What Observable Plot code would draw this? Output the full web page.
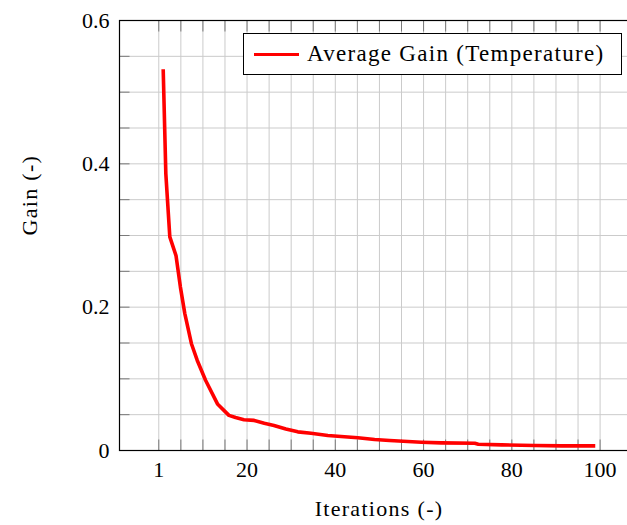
<!DOCTYPE html>
<html>
<head>
<meta charset="utf-8">
<script src="https://cdn.jsdelivr.net/npm/d3@7"></script>
<script src="https://cdn.jsdelivr.net/npm/@observablehq/plot@0.6"></script>
<style>
  html, body { margin: 0; padding: 0; background: #fff; overflow: hidden; }
  #chart { position: relative; width: 627px; height: 525px; overflow: hidden; }
  #chart svg { display: block; max-width: none !important; width: 640px; height: 525px; }
  .legend {
    position: absolute; left: 243px; top: 33px; width: 377px; height: 40px;
    border: 1px solid #000; background: #fff;
    font-family: "Liberation Serif", serif; font-size: 23px; color: #000;
  }
  .legend .swatch { position: absolute; left: 10px; top: 18.5px; width: 45px; height: 3.6px; background: #ff0000; }
  .legend .name { position: absolute; left: 63px; top: 6.5px; line-height: 26px; white-space: nowrap; letter-spacing: 1.3px; }
</style>
</head>
<body>
<div id="chart"></div>
<script>
// Average gain per iteration (temperature)
const iteration = [1, 1.6, 2.5, 3.9, 4.9, 5.9, 7.4, 8.7, 10.6, 13.3, 15.9, 17.4, 19.3, 21.6, 23.9, 26.1,
  28.8, 31.5, 34.5, 38.3, 41.3, 45.1, 48.9, 52.3, 59.5, 64, 71.6, 72.4, 77.7, 85.2, 91.3, 98.9];
const avgGain = [0.532, 0.386, 0.298, 0.272, 0.228, 0.191, 0.149, 0.126, 0.098, 0.065, 0.049, 0.046, 0.043, 0.042, 0.038, 0.035,
  0.030, 0.026, 0.024, 0.021, 0.0195, 0.0177, 0.0153, 0.014, 0.0116, 0.0107, 0.0102, 0.0088, 0.0079, 0.007, 0.0065, 0.0065];

const seriesName = "Average Gain (Temperature)";
const xLabel = "Iterations (-)";
const yLabel = "Gain (-)";

// Labelled ticks
const xTicks = [0, 20, 40, 60, 80, 100];
const xTickLabels = ["1", "20", "40", "60", "80", "100"];
const yTicks = [0, 0.2, 0.4, 0.6];
const yTickLabels = ["0", "0.2", "0.4", "0.6"];

// Grid / minor tick positions
const xGrid = d3.range(0, 101, 5);
const yGrid = d3.range(0, 13).map(i => +(i * 0.05).toFixed(2));

const data = iteration.map((x, i) => ({x, y: avgGain[i]}));

const font = "Liberation Serif, serif";
const gridColor = "#cbcbcb";
const tickColor = "#7a7a7a";

const chart = Plot.plot({
  width: 640,
  height: 525,
  marginLeft: 119,
  marginRight: 2,
  marginTop: 20,
  marginBottom: 75,
  style: {fontFamily: font, fontSize: "22px", background: "#fff", color: "#000", maxWidth: "none"},
  x: {domain: [-8.9, 108.7], label: null},
  y: {domain: [0, 0.6], label: null},
  marks: [
    Plot.gridX(xGrid, {stroke: gridColor, strokeOpacity: 1, strokeWidth: 1}),
    Plot.gridY(yGrid, {stroke: gridColor, strokeOpacity: 1, strokeWidth: 1}),
    // inward minor ticks on bottom, top and left
    Plot.axisX(xGrid, {anchor: "bottom", tickSize: -10.5, stroke: tickColor, tickFormat: () => "", label: null}),
    Plot.axisX(xGrid, {anchor: "top", tickSize: -10.5, stroke: tickColor, tickFormat: () => "", label: null}),
    Plot.axisY(yGrid, {anchor: "left", tickSize: -10.5, stroke: tickColor, tickFormat: () => "", label: null}),
    // tick labels
    Plot.axisX(xTicks, {anchor: "bottom", tickSize: 0, tickPadding: 11, fontSize: 22,
      tickFormat: d => xTickLabels[xTicks.indexOf(d)], label: null}),
    Plot.axisY(yTicks, {anchor: "left", tickSize: 0, tickPadding: 10, fontSize: 22,
      tickFormat: d => yTickLabels[yTicks.indexOf(d)], label: null}),
    Plot.line(data, {x: "x", y: "y", stroke: "#ff0000", strokeWidth: 3.6, strokeLinejoin: "round", strokeLinecap: "butt"}),
    Plot.frame({stroke: "#000", strokeWidth: 1.2}),
    // axis titles
    Plot.text([xLabel], {frameAnchor: "bottom", dy: 58, lineAnchor: "middle", fontSize: 22, fill: "#000"}),
    Plot.text([yLabel], {frameAnchor: "left", dx: -90, rotate: -90, lineAnchor: "middle", fontSize: 22, fill: "#000"})
  ]
});

const host = document.getElementById("chart");
host.appendChild(chart);
d3.select(chart).selectAll("text").filter(function () { return this.textContent === xLabel || this.textContent === yLabel; })
  .style("letter-spacing", "1.3px");

// Legend box
const legend = document.createElement("div");
legend.className = "legend";
legend.innerHTML = `<span class="swatch"></span><span class="name"></span>`;
legend.querySelector(".name").textContent = seriesName;
host.appendChild(legend);
</script>
</body>
</html>
